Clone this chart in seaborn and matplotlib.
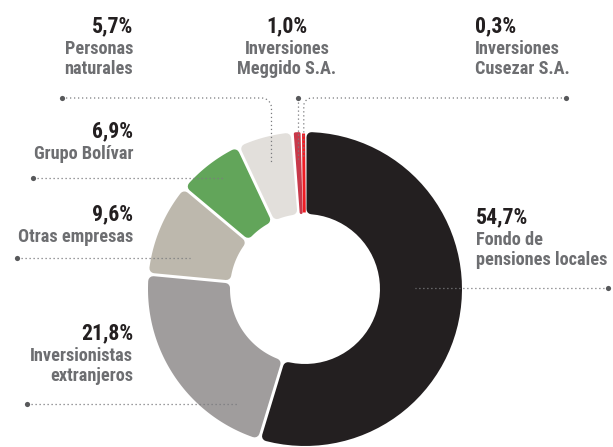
import os
import numpy as np
import matplotlib
matplotlib.use("Agg")
import matplotlib.pyplot as plt
from matplotlib import font_manager as fm
from matplotlib.patches import Polygon
from matplotlib.textpath import TextPath
import seaborn as sns

# Shareholders, clockwise from 12 o'clock
holders = ["Fondo de\npensiones locales", "Inversionistas\nextranjeros", "Otras empresas",
           "Grupo Bolívar", "Personas\nnaturales", "Inversiones\nMeggido S.A.",
           "Inversiones\nCusezar S.A."]
shares = [54.7, 21.8, 9.6, 6.9, 5.7, 1.0, 0.3]
colors = ["#231f20", "#a09d9d", "#bdb8ad", "#62a55a", "#e2dfdb", "#c8394a", "#ed1c24"]

sns.set_theme(style="white")
plt.rcParams["font.family"] = ["DejaVu Sans"]


def narrow_bold_font():
    """Pick the narrowest bold sans face available on this machine."""
    files = sorted({f.fname for f in fm.fontManager.ttflist})
    prefs = ["liberationsansnarrow-bold.", "robotocondensed-bold.", "notosans-extracondensedbold.",
             "notosans-condensedbold.", "opensans-condbold.", "opensans_condensed-bold.",
             "notosans-semicondensedbold.", "dejavusanscondensed-bold."]
    for p in prefs:
        for fn in files:
            if os.path.basename(fn).lower().startswith(p):
                return fm.FontProperties(fname=fn)
    for fn in files:
        b = os.path.basename(fn).lower()
        if ("narrow" in b or "condensed" in b) and "bold" in b and "italic" not in b \
                and "semi" not in b and "extra" not in b:
            return fm.FontProperties(fname=fn)
    return fm.FontProperties(family="DejaVu Sans", weight="bold", stretch="condensed")


FONT = narrow_bold_font()
PX = 72 / 100  # points per pixel


def fit_size(sample, width_px, cap_px):
    w = TextPath((0, 0), sample, size=100, prop=FONT).get_extents().width
    h = TextPath((0, 0), "H", size=100, prop=FONT).get_extents().height
    return min(100 * width_px / w, 100 * cap_px / h) * PX


PCT_SIZE = fit_size("54,7%", 57, 15.5)
LBL_SIZE = fit_size("pensiones locales", 130, 14)

W, H = 613, 447
fig = plt.figure(figsize=(W / 100, H / 100), dpi=100)
ax = fig.add_axes([0, 0, 1, 1])
ax.set_xlim(0, W)
ax.set_ylim(H, 0)
ax.set_aspect("equal")
ax.axis("off")

cx, cy, R_OUT, R_IN = 305, 289, 157, 75
GAP = 3.0


def point(phi, s):
    return cx + s * np.sin(phi), cy - s * np.cos(phi)


def ring_outline(phi0, phi1, rho):
    """Outline of a ring sector shrunk by the gap and corner radius."""
    h = GAP / 2 + rho

    def span(s):
        d = np.arcsin(min(h / s, 1.0))
        a0, a1 = phi0 + d, phi1 - d
        if a1 < a0:
            a0 = a1 = (phi0 + phi1) / 2
        return a0, a1

    o0, o1 = span(R_OUT - rho)
    i0, i1 = span(R_IN + rho)
    outer = [point(a, R_OUT - rho) for a in np.linspace(o0, o1, 60)]
    inner = [point(a, R_IN + rho) for a in np.linspace(i1, i0, 40)]
    return np.array(outer + inner)


frac = np.asarray(shares) / np.sum(shares)
edges = np.concatenate([[0.0], np.cumsum(frac)]) * 2 * np.pi
mids = (edges[:-1] + edges[1:]) / 2

for k, c in enumerate(colors):
    phi0, phi1 = edges[k], edges[k + 1]
    arc_inner = (phi1 - phi0) * R_IN
    rho = float(np.clip(0.3 * arc_inner, 1.5, 5.0))
    poly = Polygon(ring_outline(phi0, phi1, rho), closed=True, facecolor=c,
                   edgecolor=c, linewidth=2 * rho * PX, joinstyle="round", zorder=2)
    ax.add_patch(poly)

# Leader lines
LEAD = dict(color="#7a7b7e", linewidth=0.9, linestyle=(0, (1, 2.2)), zorder=4)
dots_x, dots_y = [], []


def bend_leader(x_dot, y_row, x_tip, y_tip, bend=10):
    side = np.sign(x_dot - x_tip)
    t = np.linspace(0, np.pi / 2, 12)
    xs = [x_dot] + list(x_tip + side * bend * (1 - np.sin(t))) + [x_tip]
    ys = [y_row] + list(y_row + bend * (1 - np.cos(t))) + [y_tip]
    ax.plot(xs, ys, **LEAD)
    dots_x.append(x_dot)
    dots_y.append(y_row)


TIP_R = 130
# Top row: vertical leaders dropping into the slivers
tx, ty = point(mids[4], TIP_R)
bend_leader(62, 98, tx, ty)
tx, ty = point(mids[6], TIP_R)
bend_leader(566, 98, tx, ty, bend=8)
tx, ty = point(mids[5], TIP_R)
ax.plot([tx, tx], [98, ty], **LEAD)
dots_x.append(tx)
dots_y.append(98)

# Horizontal leaders: (dot x, row y, tip x)
for x_dot, y_row, x_tip in [(33, 178, 225), (17, 258, 190), (27, 404, 237), (608, 288, 415)]:
    ax.plot([x_dot, x_tip], [y_row, y_row], **LEAD)
    dots_x.append(x_dot)
    dots_y.append(y_row)

sns.scatterplot(x=dots_x, y=dots_y, s=14, color="#58595b", linewidth=0, zorder=5, ax=ax,
                legend=False)

# Labels: (x, baseline of the percentage, alignment)
label_pos = [(476, 223, "left"), (133, 339, "right"), (133, 220, "right"),
             (133, 137, "right"), (133, 32, "right"), (287, 32, "center"),
             (475, 32, "left")]
for name, v, (x, y, ha) in zip(holders, shares, label_pos):
    ax.text(x, y, f"{v:.1f}".replace(".", ",") + "%", ha=ha, va="baseline",
            fontproperties=FONT, fontsize=PCT_SIZE, color="#231f20")
    for j, line in enumerate(name.split("\n")):
        ax.text(x, y + 22 + 20 * j, line, ha=ha, va="baseline",
                fontproperties=FONT, fontsize=LBL_SIZE, color="#6d6e71")

fig.savefig("out.png", dpi=100, facecolor="white")
